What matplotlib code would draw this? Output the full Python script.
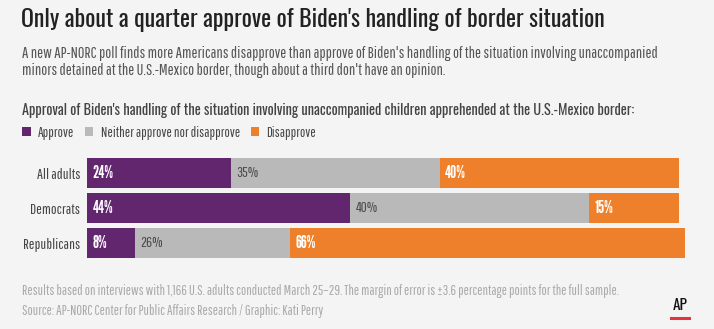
import matplotlib
matplotlib.use("Agg")
import matplotlib.pyplot as plt
from matplotlib.patches import Patch

# data
groups = ["All adults", "Democrats", "Republicans"]
approve = [24, 44, 8]
neither = [35, 40, 26]
disapprove = [40, 15, 66]
series_names = ["Approve", "Neither approve nor disapprove", "Disapprove"]
colors = ["#62266f", "#b9b9b9", "#ee802b"]
label_colors = ["white", "#4a4a4a", "white"]
label_bold = [True, False, True]

title = "Only about a quarter approve of Biden's handling of border situation"
subtitle = ("A new AP-NORC poll finds more Americans disapprove than approve of Biden's handling of the situation involving unaccompanied\n"
            "minors detained at the U.S.-Mexico border, though about a third don't have an opinion.")
chart_head = "Approval of Biden's handling of the situation involving unaccompanied children apprehended at the U.S.-Mexico border:"
note = "Results based on interviews with 1,166 U.S. adults conducted March 25\u201329. The margin of error is \u00b13.6 percentage points for the full sample."
source = "Source: AP-NORC Center for Public Affairs Research / Graphic: Kati Perry"

BG = "#f4f4f4"
HEAD_FONT = "Oswald"
BODY_FONT = "Pathway Gothic One"
NUM_FONT = "League Gothic"
W, H = 714, 329


def fx(px):
    return px / W


def fy(py):
    return 1 - py / H


fig = plt.figure(figsize=(W / 100, H / 100), dpi=100, facecolor=BG)

fig.text(fx(21), fy(20), title, family=HEAD_FONT, weight="bold", fontsize=17.2,
         color="#222222", va="center", ha="left")
fig.text(fx(22), fy(62), subtitle, family=BODY_FONT, fontsize=11.6, color="#555555",
         va="center", ha="left", linespacing=1.2)
fig.text(fx(22), fy(110), chart_head, family=HEAD_FONT, fontsize=10.3, color="#444444",
         va="center", ha="left")

# bars
ax = fig.add_axes([fx(87), fy(258), fx(598), 100 / H])
ax.set_facecolor(BG)
ypos = list(range(len(groups)))
lefts = [0] * len(groups)
for vals, c, lc, bold in zip([approve, neither, disapprove], colors, label_colors, label_bold):
    ax.barh(ypos, vals, left=lefts, height=30 / 35, color=c, edgecolor="none")
    for i, v in enumerate(vals):
        if bold:
            ax.text(lefts[i] + 0.9, i, f"{v}%", color=lc, family=NUM_FONT,
                    fontsize=12.5, va="center", ha="left")
        else:
            ax.text(lefts[i] + 0.9, i, f"{v}%", color=lc, family=BODY_FONT,
                    fontsize=10.8, va="center", ha="left")
    lefts = [l + v for l, v in zip(lefts, vals)]

ax.set_xlim(0, 100)
ax.set_ylim(2 + 15 / 35, -15 / 35)
ax.set_yticks(ypos)
ax.set_yticklabels(groups, family=BODY_FONT, fontsize=10.8, color="#444444")
ax.tick_params(axis="y", length=0, pad=5)
ax.set_xticks([])
for s in ax.spines.values():
    s.set_visible(False)

handles = [Patch(facecolor=c, edgecolor="none") for c in colors]
fig.legend(handles, series_names, loc="center left", bbox_to_anchor=(fx(22), fy(133)), ncol=3,
           frameon=False, borderpad=0, borderaxespad=0, handlelength=0.6, handleheight=0.6,
           handletextpad=0.5, columnspacing=0.75,
           prop={"family": BODY_FONT, "size": 10.3}, labelcolor="#444444")

fig.text(fx(22), fy(291), note, family=BODY_FONT, fontsize=10.05, color="#aaaaaa", va="center", ha="left")
fig.text(fx(22), fy(311), source, family=BODY_FONT, fontsize=10.05, color="#aaaaaa", va="center", ha="left")

# AP logo
fig.text(fx(680), fy(306), "AP", family=HEAD_FONT, weight="bold", fontsize=11, color="#111111",
         va="center", ha="center")
fig.add_artist(plt.Line2D([fx(671), fx(689)], [fy(318), fy(318)], color="#e8313e", lw=2.2))

fig.savefig("out.png", dpi=100, facecolor=BG)
